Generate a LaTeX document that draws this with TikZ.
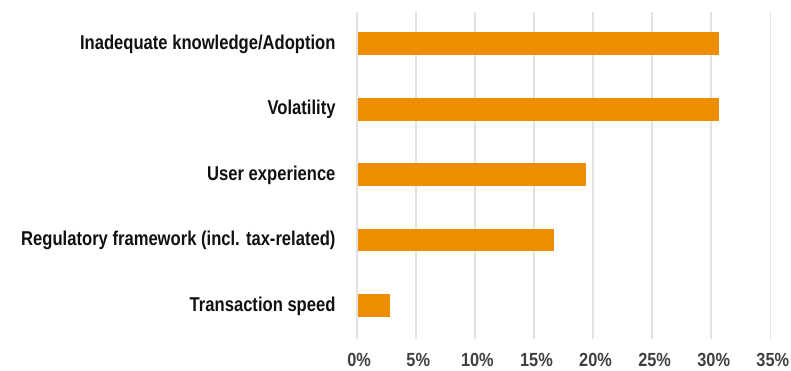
\documentclass[tikz,border=0pt]{standalone}
\usepackage{fontspec}
\setmainfont{Liberation Sans}[FakeStretch=0.83]
\newfontfamily\tickfont{Liberation Sans}[FakeStretch=0.86]
\definecolor{barorange}{RGB}{236,142,0}
\definecolor{gridgray}{RGB}{226,226,226}
\definecolor{ticktext}{RGB}{64,64,64}
\definecolor{cattext}{RGB}{17,17,17}
\begin{document}
\begin{tikzpicture}[x=1pt,y=-1pt,
  gridline/.style={draw=gridgray,line width=1.6pt},
  bar/.style={fill=barorange,draw=none},
  catlabel/.style={anchor=base east,inner sep=0pt,font=\bfseries\fontsize{20}{20}\selectfont,text=cattext},
  ticklabel/.style={anchor=base,inner sep=0pt,font=\tickfont\bfseries\fontsize{19}{19}\selectfont,text=ticktext}]
\useasboundingbox (0,0) rectangle (791,370);
% gridlines
\foreach \i in {0,...,7}{
  \draw[gridline] ({356.7+59.09*\i},12.3) -- ({356.7+59.09*\i},339);
}
% tick labels
\foreach \i/\t in {0/0\%,1/5\%,2/10\%,3/15\%,4/20\%,5/25\%,6/30\%,7/35\%}{
  \node[ticklabel] (tick\i) at ({359.2+59.09*\i},366.3) {\t};
}
% bars
\foreach \n/\yc/\xe in {a/43.65/719,b/109.2/719,c/174.65/586,d/240/554.3,e/305.35/389.7}{
  \fill[bar] (357.7,{\yc-11.35}) rectangle (\xe,{\yc+11.35});
}
% category labels
\node[catlabel] (la) at (335.7,49.3) {Inadequate knowledge/Adoption};
\node[catlabel] (lb) at (335.7,114.9) {Volatility};
\node[catlabel] (lc) at (335.7,180.3) {User experience};
\node[catlabel] (ld) at (335.7,245.7) {Regulatory framework (incl. tax-related)};
\node[catlabel] (le) at (335.7,311.1) {Transaction speed};
\end{tikzpicture}
\end{document}
